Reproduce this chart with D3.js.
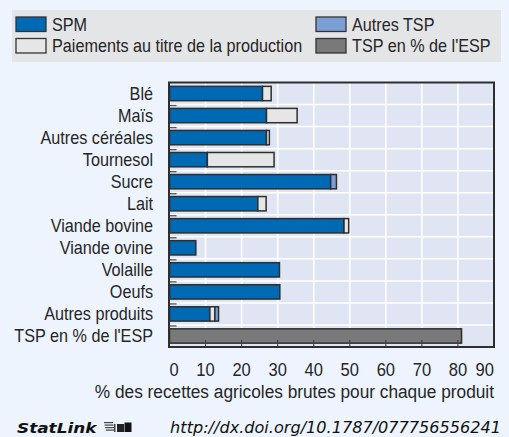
<!DOCTYPE html>
<html><head><meta charset="utf-8">
<script src="https://cdn.jsdelivr.net/npm/d3@7"></script>
<style>
html,body{margin:0;padding:0;background:#edf4fd;}
svg{display:block;}
</style></head>
<body>
<svg id="c" width="509" height="437" font-family="Liberation Sans, Arial, sans-serif"></svg>
<script>
const categories = ["Blé","Maïs","Autres céréales","Tournesol","Sucre","Lait","Viande bovine","Viande ovine","Volaille","Oeufs","Autres produits","TSP en % de l'ESP"];
const spm       = [25.8, 26.9, 26.9, 10.5, 44.7, 24.5, 48.4, 7.3, 30.5, 30.6, 11.2, 0];
const paiements = [2.4, 8.5, 0.8, 18.5, 0, 2.3, 1.3, 0, 0, 0, 1.4, 0];
const autresTSP = [0, 0, 0, 0, 1.6, 0, 0, 0, 0, 0, 1.0, 0];
const tspESP    = [0, 0, 0, 0, 0, 0, 0, 0, 0, 0, 0, 81];
const xTicks = [0,10,20,30,40,50,60,70,80,90];
const seriesNames = ["SPM","Paiements au titre de la production","Autres TSP","TSP en % de l'ESP"];
const colors = ["#0069b4","#e6e6e6","#7b9fd5","#797979"];
const axisTitle = "% des recettes agricoles brutes pour chaque produit";

const svg = d3.select("#c");
const L = 169.5, R = 494, T = 82.5, B = 347;
const x = d3.scaleLinear().domain([0,90]).range([L,R]);
const y = d3.scaleBand().domain(categories).range([T,B]).paddingInner(0.35).paddingOuter(0.175);
const step = y.step();

function txt(parent, tx, ty, str, anchor, size, sx){
  return parent.append("text")
    .attr("transform",`translate(${tx},${ty}) scale(${sx},1)`)
    .attr("text-anchor",anchor).attr("font-size",size).attr("fill","#262626").text(str);
}

// legend
const lg = svg.append("g");
lg.append("rect").attr("x",12).attr("y",10).attr("width",489).attr("height",52).attr("fill","#e4e5e7");
const legPos = [[16,17],[16,38.5],[316,17],[316,38.5]];
seriesNames.forEach((name,i)=>{
  const [lx,ly] = legPos[i];
  lg.append("rect").attr("x",lx).attr("y",ly).attr("width",30).attr("height",14.5)
    .attr("fill",colors[i]).attr("stroke","#333").attr("stroke-width",1.3);
  txt(lg, lx+36, ly+13.5, name, "start", 18, 0.9);
});

// plot background
svg.append("rect").attr("x",L).attr("y",T).attr("width",R-L).attr("height",B-T).attr("fill","#dfe5f2");
// vertical grid
svg.append("g").selectAll("line").data(xTicks.slice(1,-1)).join("line")
  .attr("x1",d=>x(d)).attr("x2",d=>x(d)).attr("y1",T).attr("y2",B)
  .attr("stroke","#fff").attr("stroke-width",1.5);
// horizontal grid
const bounds = d3.range(1,categories.length).map(k=>T+k*step);
svg.append("g").selectAll("line").data(bounds).join("line")
  .attr("x1",L).attr("x2",R).attr("y1",d=>d).attr("y2",d=>d)
  .attr("stroke","#fff").attr("stroke-width",1.5);
// left small ticks
svg.append("g").selectAll("line").data(bounds).join("line")
  .attr("x1",L).attr("x2",L+7).attr("y1",d=>d+1).attr("y2",d=>d+1)
  .attr("stroke","#555").attr("stroke-width",1.3);

// stacked bars
const table = categories.map((c,i)=>({cat:c, s0:spm[i], s1:paiements[i], s2:autresTSP[i], s3:tspESP[i]}));
const stack = d3.stack().keys(["s0","s1","s2","s3"])(table);
const gb = svg.append("g");
stack.forEach((ser,si)=>{
  gb.append("g").selectAll("rect").data(ser.filter(d=>d[1]-d[0]>0)).join("rect")
    .attr("x",d=>x(d[0])).attr("width",d=>x(d[1])-x(d[0]))
    .attr("y",d=>y(d.data.cat)).attr("height",y.bandwidth())
    .attr("fill",colors[si]).attr("stroke","#2e2e2e").attr("stroke-width",1.5);
});

// bottom ticks
svg.append("g").selectAll("line").data(xTicks.slice(1,-1)).join("line")
  .attr("x1",d=>x(d)).attr("x2",d=>x(d)).attr("y1",B).attr("y2",B-7)
  .attr("stroke","#444").attr("stroke-width",1.2);

// border
svg.append("rect").attr("x",L-0.5).attr("y",T).attr("width",R-L+0.5).attr("height",B-T)
  .attr("fill","none").attr("stroke","#2e2e2e").attr("stroke-width",2);

// y labels
const gy = svg.append("g");
categories.forEach(c=>txt(gy, 153, y(c)+y.bandwidth()/2+6.5, c, "end", 18, 0.9));

// x tick labels
const gx = svg.append("g");
xTicks.forEach((d,i)=>{
  const anchor = i===0 ? "start" : (i===xTicks.length-1 ? "end" : "middle");
  txt(gx, x(d), 376, String(d), anchor, 18, 0.92);
});

txt(svg, 494, 398, axisTitle, "end", 18, 0.96);

// StatLink footer
const f = svg.append("g");
f.append("text").attr("transform","translate(17,433) scale(1.25,1)")
  .attr("font-family","DejaVu Sans").attr("font-weight","bold")
  .attr("font-style","italic").attr("font-size",13.5).attr("fill","#111").text("StatLink");
const ic = f.append("g").attr("transform","translate(104,422)");
[0,2.5,5,7.5].forEach((dy,i)=>ic.append("rect").attr("x",i*0.6).attr("y",dy).attr("width",9).attr("height",1.2).attr("fill","#444"));
ic.append("rect").attr("x",10).attr("y",2).attr("width",1.5).attr("height",8).attr("fill","#444");
ic.append("rect").attr("x",13).attr("y",2).attr("width",7).attr("height",8).attr("fill","#222");
ic.append("rect").attr("x",20.5).attr("y",0.5).attr("width",7).attr("height",9.5).attr("fill","#111");
const url = f.append("text").attr("x",0).attr("y",0).attr("text-anchor","end").attr("font-family","DejaVu Sans")
  .attr("font-style","italic").attr("font-size",16).attr("fill","#111").text("http://dx.doi.org/10.1787/077756556241");
const uw = url.node().getComputedTextLength();
url.attr("transform",`translate(501,433) scale(${331/uw},1)`);
</script>
</body></html>
